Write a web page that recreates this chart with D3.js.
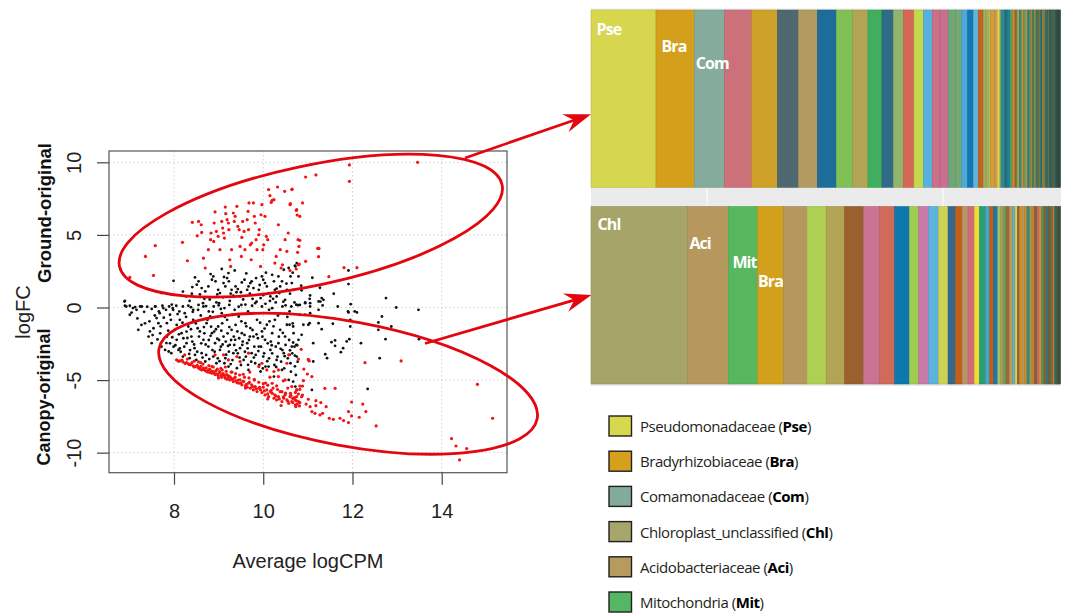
<!DOCTYPE html>
<html><head><meta charset="utf-8">
<script src="https://cdn.jsdelivr.net/npm/d3@7"></script>
<style>body{margin:0;background:#fff;} svg{display:block;}</style>
</head><body><svg id="chart" width="1065" height="613"></svg>
<script>
// ---------------- DATA ----------------
const xTicks = [8, 10, 12, 14];
const yTicks = [-10, -5, 0, 5, 10];
const xTitle = "Average logCPM";
const yTitle = "logFC";
const upTitle = "Ground-original";
const downTitle = "Canopy-original";

// non-significant tags (black)
const blackPoints = [
[7.99,1.84],[8.47,2.07],[8.41,1.41],[8.51,1.57],[8.62,1.34],[8.70,1.11],[8.77,1.45],[8.85,1.91],[8.88,2.14],[8.93,1.80],[8.99,1.22],[9.03,0.99],[9.07,2.65],[9.11,1.68],[9.15,1.45],[9.19,2.03],[9.22,2.37],[9.23,1.80],[9.29,1.22],[9.33,0.81],[9.38,1.45],[9.43,1.27],[9.48,0.76],[9.52,1.73],[9.58,1.91],[9.64,1.22],[9.67,1.45],[9.71,1.68],[9.74,1.80],[9.78,1.34],[9.84,2.03],[9.90,1.22],[9.94,0.65],[9.97,2.14],[10.00,1.91],[10.04,1.68],[10.08,1.45],[10.12,0.99],[10.16,0.76],[10.20,2.25],[10.24,1.80],[10.26,1.22],[10.30,0.76],[10.34,2.14],[10.38,1.45],[10.42,1.80],[10.46,2.60],[10.49,0.53],[10.53,1.22],[10.57,2.72],[10.61,2.14],[10.64,1.68],[10.68,1.22],[10.72,2.83],[10.75,3.06],[10.79,2.14],[7.72,0.99],[8.27,0.76],[6.90,0.46],
[8.35,0.45],[8.58,0.90],[8.80,0.55],[8.95,0.35],[9.10,0.70],[9.25,0.45],[9.40,1.05],[9.55,0.55],[9.70,0.95],[9.85,0.40],[10.00,0.85],[10.15,0.45],[10.30,1.30],[10.45,0.40],[10.60,0.95],[10.70,0.35],[8.65,0.30],[9.00,0.15],[9.60,0.20],[10.05,0.25],
[8.20,1.10],[8.40,0.95],[8.55,1.80],[8.68,0.60],[8.82,2.30],[8.97,0.90],[9.12,2.10],[9.27,0.95],[9.36,2.55],[9.50,1.05],[9.62,2.35],[9.76,0.60],[9.92,1.55],[10.06,2.40],[10.22,0.60],[10.36,1.00],[10.52,1.65],[10.66,2.40],[10.85,1.50],[11.10,2.05],
[6.89,0.41],[6.93,0.07],[7.01,0.12],[7.08,-0.04],[7.16,-0.16],[7.28,0.07],[7.58,0.07],[7.66,-0.27],[7.74,0.12],[7.82,-0.16],[7.89,0.07],[7.97,-0.04],[8.05,0.12],[8.12,-0.27],[8.20,0.07],[8.32,0.12],[8.43,-0.16],[8.55,0.18],[8.66,0.07],[8.78,-0.27],[8.89,0.07],[9.01,0.30],[9.13,-0.04],[9.24,0.18],[9.36,-0.16],[9.51,0.18],[9.66,-0.27],[9.82,0.30],[9.97,0.07],[10.13,-0.16],[10.28,0.35],[10.43,0.07],[10.59,-0.27],[10.82,0.18],[11.05,0.30],[11.28,0.41],[11.67,0.07],[11.90,-0.27],[12.05,-0.27],[12.75,0.65],[12.98,0.00],[13.48,-0.16],
[7.40,0.05],[7.50,-0.10],[7.95,0.20],[8.38,0.02],[8.72,0.10],[9.05,-0.10],[9.45,0.05],[9.75,0.12],[10.20,-0.05],[10.50,0.15],
[10.71,2.88],[11.91,2.55],[11.91,1.61],[11.27,1.36],[11.58,0.95],[10.86,1.18],[11.05,0.83],[11.04,0.60],[10.94,0.35],[11.24,0.42],[11.31,0.65],[11.35,0.53],[10.78,0.16],[11.05,0.07],[11.33,0.14],[11.96,0.23],
[10.59,-1.19],[10.67,-1.31],[10.63,0.07],[10.74,0.19],[10.82,-0.50],[10.90,-1.19],[10.94,0.30],[11.01,-1.19],[11.04,-1.08],[10.94,-0.50],[10.86,-1.88],[10.67,-2.41],[10.74,-2.57],[11.12,-2.46],[11.24,-0.16],[11.24,-1.08],[11.31,-1.49],[11.56,-1.12],[11.53,-2.39],[11.61,-2.27],[11.61,-2.64],[11.39,-3.22],[11.43,-3.49],[11.74,-3.08],[11.79,-2.80],[11.87,-2.34],[11.93,-2.18],[11.91,-0.34],[11.95,-0.85],[11.95,-1.31],[12.10,-0.34],[12.19,-2.46],[12.34,-5.61],[12.61,-3.49],[12.58,-1.54],[12.66,-0.62],[12.58,-1.03],[12.74,-2.18],[12.87,-1.31],[13.49,-2.18],[10.67,-5.10],[11.09,-5.68],[11.12,-3.72],[11.01,-3.61],[10.71,-3.31],[10.59,-3.26],[11.05,-0.39],
[6.90,0.12],[7.01,-0.50],[7.13,0.03],[7.20,-1.54],[7.24,0.07],[7.43,-2.00],[7.46,-1.65],[7.50,-2.46],[7.58,0.07],[7.61,-0.73],[7.65,-1.08],[7.68,-0.39],[7.72,-2.69],[7.76,-0.04],[7.80,-2.92],[7.84,-1.08],[7.88,-3.03],[7.91,-0.50],[7.94,-3.15],[7.98,-0.16],[8.02,-1.54],[8.06,-2.23],[8.10,-2.92],[8.13,-0.85],[8.17,-1.77],[8.20,-3.38],[8.24,-0.39],[8.28,-2.46],[8.32,-1.31],[8.35,-3.49],[8.39,-2.00],[8.43,-0.85],[8.46,-2.80],[8.50,-3.61],[8.54,-0.16],[8.58,-1.65],[8.62,-3.15],[8.66,-2.23],[8.70,-3.72],[8.73,-1.08],[8.77,-2.69],[8.81,-0.62],[8.85,-1.77],[8.88,-3.38],[8.92,-2.46],[8.95,-3.84],[8.99,-1.31],[9.03,-2.92],[9.07,-0.39],[9.11,-2.00],[9.15,-3.49],[9.19,-0.85],[9.22,-4.07],[9.25,-2.57],[9.29,-1.54],[9.33,-3.15],[9.37,-2.23],[9.41,-4.18],[9.45,-0.62],[9.48,-2.80],[9.52,-1.77],[9.56,-3.61],[9.60,-1.08],[9.64,-2.46],[9.67,-4.30],[9.71,-1.42],[9.74,-3.15],[9.78,-2.00],[9.82,-3.84],[9.86,-0.85],[9.90,-2.69],[9.94,-4.41],[9.97,-1.65],[10.00,-3.38],[10.04,-2.23],[10.08,-1.19],[10.12,-4.07],[10.16,-2.92],[10.20,-1.77],[10.24,-4.76],[10.26,-0.85],[10.30,-3.61],[10.34,-2.46],[10.38,-1.54],[10.42,-4.30],[10.46,-3.15],[10.49,-2.00],[10.53,-1.19],[10.57,-4.99],[10.61,-3.84],[10.64,-2.69],[10.68,-1.77],[10.72,-5.45],[10.75,-3.38],[10.79,-2.23],
[7.35,-1.09],[7.54,-1.43],[7.69,-1.78],[7.84,-2.01],[7.91,-2.47],[7.99,-2.70],[8.06,-1.20],[8.13,-2.81],[8.21,-2.12],[8.28,-1.66],[8.36,-2.93],[8.41,-2.35],[8.47,-3.27],[8.53,-1.43],[8.61,-2.47],[8.68,-1.78],[8.72,-3.27],[8.78,-2.24],[8.83,-1.32],[8.86,-2.93],[8.90,-1.66],[8.98,-3.50],[9.01,-2.24],[9.05,-2.70],[9.08,-1.09],[9.13,-3.84],[9.16,-2.35],[9.20,-1.78],[9.23,-3.04],[9.28,-2.24],[9.31,-3.62],[9.35,-2.58],[9.38,-1.20],[9.43,-3.16],[9.46,-2.12],[9.50,-3.96],[9.53,-2.58],[9.58,-1.89],[9.61,-3.39],[9.65,-2.81],[9.68,-2.24],[9.73,-3.73],[9.76,-1.55],[9.80,-2.70],[9.83,-3.27],[9.88,-2.12],[9.91,-3.96],[9.95,-2.70],[9.98,-2.01],[10.02,-3.16],[10.05,-4.07],[10.10,-2.47],[10.13,-3.50],[10.17,-2.35],[10.20,-3.16],[10.25,-3.96],[10.28,-2.70],[10.32,-3.39],[10.35,-2.01],[10.40,-3.73],[10.43,-2.93],[10.47,-4.19],[10.50,-2.58],[10.55,-3.50],[10.58,-2.24],[10.62,-4.42],[10.65,-3.16],[10.70,-2.70],[10.73,-4.65],[10.77,-3.73],
[7.05,-0.35],[7.18,-0.75],[7.27,-1.20],[7.33,-0.30],[7.45,-0.95],[7.52,-1.90],[7.57,-0.55],[7.63,-2.20],[7.70,-1.30],[7.77,-0.70],[7.83,-2.45],[7.87,-1.60],[7.93,-0.85],[7.96,-2.05],[8.03,-2.60],[8.08,-0.45],[8.11,-1.85],[8.15,-3.05],[8.19,-1.05],[8.23,-2.70],[8.27,-0.65],[8.30,-2.10],[8.34,-3.20],[8.38,-1.50],[8.42,-0.30],[8.45,-2.55],[8.49,-1.10],[8.52,-3.05],[8.56,-2.00],[8.60,-0.55],[8.64,-3.45],[8.67,-1.35],[8.71,-2.55],[8.75,-0.85],[8.79,-3.55],[8.82,-1.95],[8.87,-0.30],[8.91,-3.05],[8.94,-1.50],[8.97,-2.15],[9.02,-3.70],[9.06,-1.60],[9.09,-2.55],[9.14,-0.65],[9.17,-3.25],[9.21,-2.65],[9.24,-1.35],[9.27,-3.90],[9.31,-0.50],[9.34,-2.00],[9.39,-2.95],[9.42,-1.65],[9.47,-3.45],[9.51,-0.95],[9.54,-2.35],[9.59,-3.05],[9.62,-1.30],[9.66,-3.95],[9.70,-2.00],[9.75,-0.40],[9.79,-3.45],[9.85,-1.85],[9.89,-3.00],[9.93,-1.05],[9.99,-4.20],[10.03,-1.45],[10.09,-3.70],[10.14,-0.95],[10.19,-2.60],[10.23,-1.30],[10.29,-4.10],[10.33,-0.55],[10.39,-2.85],[10.44,-1.75],[10.48,-3.35],[10.54,-0.65],[10.60,-2.95],[10.66,-1.10],[10.71,-4.05],[10.76,-2.60]
];

// differentially abundant tags (red)
const redPoints = [
[7.01,2.07],[7.54,2.21],[7.36,3.52],[7.58,4.26],[8.19,4.49],[8.30,3.22],[8.41,5.87],[8.55,5.93],[8.61,5.70],[8.52,4.94],[8.62,5.17],[8.70,2.72],[8.66,3.40],[8.77,3.98],[8.83,5.13],[8.82,4.67],[8.89,4.55],[8.92,6.58],[8.90,5.82],[8.95,5.24],[8.99,4.90],[9.03,3.98],[9.07,5.93],[9.09,5.47],[9.11,5.13],[9.13,4.78],[9.15,6.92],[9.16,6.46],[9.19,6.05],[9.22,5.82],[9.23,5.36],[9.25,3.29],[9.27,2.83],[9.29,3.98],[9.33,6.51],[9.35,5.93],[9.37,6.28],[9.41,6.97],[9.43,5.59],[9.46,5.36],[9.48,4.21],[9.51,3.52],[9.52,4.83],[9.54,5.93],[9.57,5.24],[9.59,3.98],[9.64,6.05],[9.66,6.62],[9.67,5.36],[9.68,7.20],[9.71,4.32],[9.73,3.29],[9.74,4.44],[9.78,7.20],[9.80,6.28],[9.82,5.82],[9.84,4.67],[9.86,3.98],[9.90,5.01],[9.91,5.36],[9.94,2.83],[9.95,6.39],[9.97,7.08],[9.99,3.98],[10.01,4.32],[10.04,6.28],[10.07,4.90],[10.10,4.67],[10.12,8.12],[10.15,7.70],[10.18,7.24],[10.20,7.38],[10.24,7.43],[10.26,3.06],[10.29,3.52],[10.32,8.30],[10.34,5.70],[10.38,3.98],[10.40,2.72],[10.43,2.94],[10.48,8.00],[10.49,4.67],[10.53,3.87],[10.56,5.13],[10.61,7.15],[10.64,8.12],[10.75,6.74],[10.78,4.67],[10.79,2.94],[10.82,6.28],
[10.60,7.08],[10.65,8.16],[10.74,6.69],[10.76,6.37],[10.88,7.20],[10.95,8.99],[11.18,9.13],[11.93,9.82],[11.93,8.69],[13.46,10.00],[10.82,4.63],[10.80,4.21],[10.77,3.80],[10.81,2.99],[10.95,3.18],[10.74,2.65],[10.60,2.55],[11.22,4.07],[11.25,4.07],[11.24,3.50],[11.81,2.74],[12.10,2.74],[11.47,2.12],
[8.06,-3.61],[8.13,-3.68],[8.20,-3.75],[8.28,-3.79],[8.32,-3.88],[8.37,-3.95],[8.43,-4.02],[8.48,-4.07],[8.54,-4.14],[8.58,-4.23],[8.62,-4.30],[8.66,-4.18],[8.70,-4.34],[8.73,-4.41],[8.77,-4.30],[8.81,-4.48],[8.85,-4.53],[8.88,-4.41],[8.92,-4.62],[8.95,-4.57],[8.99,-4.71],[9.03,-4.48],[9.07,-4.80],[9.11,-4.64],[9.15,-4.87],[9.19,-4.94],[9.22,-4.71],[9.25,-4.99],[9.29,-4.90],[9.33,-5.10],[9.37,-4.80],[9.41,-5.17],[9.45,-5.22],[9.48,-4.99],[9.52,-5.33],[9.56,-5.10],[9.60,-5.40],[9.64,-5.49],[9.67,-5.22],[9.71,-5.56],[9.74,-5.33],[9.78,-5.68],[9.82,-5.45],[9.86,-5.79],[9.90,-5.56],[9.94,-5.68],[9.97,-5.86],[10.00,-5.49],[10.04,-6.02],[10.08,-5.68],[10.12,-6.14],[10.16,-5.79],[10.20,-5.91],[10.24,-6.25],[10.26,-6.02],[10.30,-6.37],[10.34,-6.14],[10.38,-5.79],[10.42,-6.48],[10.46,-6.25],[10.49,-6.02],[10.53,-6.37],[10.57,-6.60],[10.61,-5.91],[10.64,-6.48],[10.68,-6.25],[10.72,-6.71],[10.75,-6.14],[10.79,-6.48],
[8.92,-3.26],[9.22,-3.61],[9.41,-3.38],[9.48,-3.72],[9.67,-3.15],[9.90,-4.07],[9.97,-3.84],[10.08,-4.30],[10.24,-4.41],[10.34,-4.30],[10.53,-3.84],[10.57,-3.26],[10.34,-4.76],[10.20,-5.22],[10.49,-4.99],[10.64,-5.45],[10.75,-5.68],[8.24,-3.26],[9.11,-3.26],
[8.10,-3.70],[8.18,-3.62],[8.25,-3.85],[8.34,-3.92],[8.40,-3.80],[8.45,-4.10],[8.52,-3.98],[8.57,-4.20],[8.60,-4.05],[8.68,-4.28],[8.72,-4.15],[8.76,-4.45],[8.80,-4.25],[8.84,-4.38],[8.90,-4.50],[8.94,-4.35],[8.98,-4.60],[9.02,-4.42],[9.06,-4.68],[9.10,-4.55],[9.14,-4.75],[9.18,-4.62],[9.21,-4.85],[9.26,-4.78],[9.30,-4.95],[9.35,-4.88],[9.39,-5.05],[9.44,-5.00],[9.50,-5.20],[9.55,-5.08],[9.62,-5.30],[9.69,-5.15],[9.76,-5.45],[9.84,-5.60],[9.92,-5.50],[10.02,-5.75],[10.10,-5.95],[10.18,-5.70],[10.28,-6.10],[10.36,-6.30],[10.45,-6.15],[10.55,-6.45],[10.66,-6.55],[10.74,-6.42],
[8.30,-3.55],[8.45,-3.70],[8.55,-3.75],[8.65,-3.90],[8.78,-4.00],[8.88,-4.10],[8.97,-4.25],[9.08,-4.30],[9.17,-4.40],[9.28,-4.45],[9.38,-4.55],[9.47,-4.65],[9.58,-4.80],[9.68,-4.85],[9.80,-5.00],[9.90,-5.15],[10.00,-5.25],[10.10,-5.35],[10.22,-5.55],[10.32,-5.65],[10.42,-5.80],[10.50,-5.90],[10.62,-6.05],[10.70,-6.20],
[8.60,-3.80],[8.85,-4.05],[9.05,-4.20],[9.30,-4.45],[9.55,-4.60],[9.80,-4.95],[10.05,-5.20],[10.30,-5.40],[10.55,-5.55],[10.72,-5.85],[9.15,-4.10],[9.70,-4.45],[10.15,-4.80],[10.45,-5.05],
[9.00,-4.85],[9.60,-5.55],[10.10,-6.30],[10.40,-6.75],
[10.85,-2.88],[10.79,-3.55],[11.01,-3.57],[11.03,-3.68],[10.91,-4.24],[10.99,-4.58],[11.09,-4.76],[10.90,-5.04],[10.82,-5.41],[10.88,-5.41],[10.82,-5.64],[10.75,-5.68],[10.79,-5.96],[10.86,-6.14],[10.88,-6.03],[10.66,-6.26],[10.71,-6.37],[10.60,-6.14],[10.76,-6.65],[10.82,-6.55],[10.81,-6.78],[10.73,-6.83],[10.96,-6.65],[11.01,-6.32],[11.05,-6.83],[11.09,-7.17],[11.16,-7.29],[11.18,-6.42],[11.18,-6.76],[11.29,-6.55],[11.27,-7.40],[11.33,-7.29],[11.41,-6.83],[11.38,-5.57],[11.61,-5.57],[11.48,-7.63],[11.57,-7.70],[11.72,-7.63],[11.80,-7.79],[11.91,-7.93],[11.91,-7.17],[11.98,-7.47],[11.98,-6.51],[12.15,-7.56],[12.23,-6.65],[12.30,-7.17],[12.28,-3.80],[12.53,-8.16],[13.09,-3.68],[14.80,-5.29],[15.14,-7.63],[14.22,-9.03],[14.32,-9.54],[14.56,-9.72],[14.40,-10.50]
];

// family composition strips (relative abundance, ordered)
const topAbund = [65,38.3,30,27.4,25.6,21,19,19,16.4,15.3,14,11.3,10,10.7,9.3,9,7.7,8.3,7.4,6,6,5.6,5,5,
  2.7,2.3,2.4,3.6,3.0,2.7,1.7,3.3,2.3,2.7,2.7,2.3,2.0,2.3,2.4,2.0,2.0,2.0,1.6,1.7,
  1.7,1.6,1.7,1.6,1.6,1.6,1.5,1.5,1.5,1.5,1.4,1.4,1.4,1.4,1.4,1.4,1.4,1.4,1.3,1.2];
const topColors = ["#d6d64f","#d4a01c","#84ab9b","#cc707a","#cea128","#4f6870","#b39a60","#1d6c99","#80c157","#b1a555","#3fae5e","#306c88","#93b46c","#d46756","#c5d84b","#58b0dd","#cc6f87","#c8708f","#6fa777","#74a874","#4ca9d7","#1477b1","#5fb4dc","#c3621b",
  "#97b26a","#b4a957","#a3c45a","#d99a36","#c49a55","#e5d53a","#7f9f80","#2b8c8f","#2a6f7d","#1f7fa0","#4fa35f","#d7842b","#8e6a3b","#9aa553","#2d8a86","#d68a30","#5a9e5a","#b79352","#2f7f7f","#4a9a6a",
  "#cf7c2a","#3f7d5a","#8e9a4e","#2c7d86","#8b5e34","#4e9055","#286a73","#c47a2e","#558f5a","#7b5a3a","#2a6f70","#4a8050","#4a5a48","#2b6a6a","#6e5a3c","#3f6f55","#2a5a5a","#3e4e40","#234f55","#2f4a3f"];
const topLabels = ["Pse", "Bra", "Com"];

const botAbund = [96.3,41,29,26,23.4,19.3,18.3,19,15.7,15.3,14.7,9.3,10,10,9.4,7.3,6.7,6,6.3,5,6,4.3,4,4,
  2.7,2.6,3.0,3.6,3.0,2.5,2.2,2.3,2.5,2.4,2.5,2.8,2.2,2.5,2.5,2.2,2.2,2.4,2.3,2.2,2.2,2.3,1.9,1.9,2.0,1.8];
const botColors = ["#a7a469","#b6975e","#56b75f","#d3a01b","#b6975e","#afcf52","#b1a555","#9a612e","#c97493","#d26a5b","#0c78ac","#a1cc52","#c97aa8","#5eb2de","#cdd255","#33698a","#c55e1a","#b59569","#d46a78","#e7e035","#2a9e6c","#41a7cf","#c95c12","#1a78ad",
  "#9dc35c","#b89a5a","#6aa55a","#9a6a3a","#c69a56","#5aaed6","#e2d240","#8e6238","#d9902a","#b8975a","#d08a2a","#2f8a8a","#9aa054","#cf7e2c","#8b5f35","#cc6a6a","#d68e30","#4f9a5a","#8a6238","#2d7a7a","#7a5a38","#6a6e40","#c47a2e","#2a6a6a","#4a5a40","#3d4f3b"];
const botLabels = ["Chl", "Aci", "Mit", "Bra"];

const legendNames = ["Pseudomonadaceae","Bradyrhizobiaceae","Comamonadaceae","Chloroplast_unclassified","Acidobacteriaceae","Mitochondria"];
const legendAbbr = ["Pse","Bra","Com","Chl","Aci","Mit"];
const legendColors = ["#d8d84e","#d5a01c","#82ab9a","#a6a66a","#b69a5e","#55b664"];

// ---------------- DRAW ----------------
const svg = d3.select("#chart");
svg.append("rect").attr("width",1065).attr("height",613).attr("fill","#fff");
const RED = "#e3060f";
const axisFont = "'Liberation Sans', Arial, Helvetica, sans-serif";
const P = {l:109, r:507, t:151, b:472.7};
const x = d3.scaleLinear().domain([6.543, 15.463]).range([P.l, P.r]);
const y = d3.scaleLinear().domain([-11.38, 10.78]).range([P.b, P.t]);

const plot = svg.append("g");
plot.selectAll("line.gx").data(xTicks).join("line").attr("class","gx")
  .attr("x1",d=>x(d)).attr("x2",d=>x(d)).attr("y1",P.t).attr("y2",P.b)
  .attr("stroke","#d0d0d0").attr("stroke-width",1).attr("stroke-dasharray","1.5,2.5");
plot.selectAll("line.gy").data(yTicks).join("line").attr("class","gy")
  .attr("y1",d=>y(d)).attr("y2",d=>y(d)).attr("x1",P.l).attr("x2",P.r)
  .attr("stroke","#d0d0d0").attr("stroke-width",1).attr("stroke-dasharray","1.5,2.5");

plot.selectAll("circle.bk").data(blackPoints).join("circle").attr("class","bk")
  .attr("cx",d=>x(d[0])).attr("cy",d=>y(d[1])).attr("r",1.4).attr("fill","#111");
plot.selectAll("circle.rd").data(redPoints).join("circle").attr("class","rd")
  .attr("cx",d=>x(d[0])).attr("cy",d=>y(d[1])).attr("r",1.6).attr("fill","#f21414");

plot.append("rect").attr("x",P.l).attr("y",P.t).attr("width",P.r-P.l).attr("height",P.b-P.t)
  .attr("fill","none").attr("stroke","#555").attr("stroke-width",1.2);

const xa = svg.append("g").attr("transform",`translate(0,${P.b})`)
  .call(d3.axisBottom(x).tickValues(xTicks).tickSize(12).tickPadding(19).tickFormat(d=>String(d)));
xa.select(".domain").remove();
xa.selectAll("line").attr("stroke","#444").attr("stroke-width",1.2);
xa.selectAll("text").attr("font-size",20).attr("font-family",axisFont).attr("fill","#222");

const ya = svg.append("g").attr("transform",`translate(${P.l},0)`)
  .call(d3.axisLeft(y).tickValues(yTicks).tickSize(12).tickFormat(d=>String(d)));
ya.select(".domain").remove();
ya.selectAll("line").attr("stroke","#444").attr("stroke-width",1.2);
ya.selectAll("text").attr("x",0).attr("dy",null).attr("text-anchor","middle")
  .attr("dominant-baseline","central").attr("transform",`translate(${74-P.l},0) rotate(-90)`)
  .attr("font-size",20).attr("font-family",axisFont).attr("fill","#222");

svg.append("text").attr("x",(P.l+P.r)/2).attr("y",561).attr("text-anchor","middle")
  .attr("dominant-baseline","central").attr("font-family",axisFont).attr("font-size",20).attr("fill","#222").text(xTitle);
svg.append("text").attr("transform","translate(23,312) rotate(-90)").attr("text-anchor","middle")
  .attr("dominant-baseline","central").attr("font-family",axisFont).attr("font-size",20).attr("fill","#222").text(yTitle);
svg.append("text").attr("transform","translate(44,213) rotate(-90)").attr("text-anchor","middle")
  .attr("dominant-baseline","central").attr("font-family",axisFont).attr("font-weight","bold").attr("font-size",18.5).attr("fill","#111").text(upTitle);
svg.append("text").attr("transform","translate(44,397) rotate(-90)").attr("text-anchor","middle")
  .attr("dominant-baseline","central").attr("font-family",axisFont).attr("font-weight","bold").attr("font-size",18).attr("fill","#111").text(downTitle);

// ellipses
svg.append("ellipse").attr("cx",0).attr("cy",0).attr("rx",195.6).attr("ry",59.8)
  .attr("transform","translate(310.8,225.6) rotate(-12.06)")
  .attr("fill","none").attr("stroke",RED).attr("stroke-width",2.8);
svg.append("ellipse").attr("cx",0).attr("cy",0).attr("rx",192.3).attr("ry",62.1)
  .attr("transform","translate(348.1,383.7) rotate(10.49)")
  .attr("fill","none").attr("stroke",RED).attr("stroke-width",2.8);

function arrow(x1,y1,x2,y2){
  const ang = Math.atan2(y2-y1,x2-x1);
  const bx = x2 - 18*Math.cos(ang), by = y2 - 18*Math.sin(ang);
  svg.append("line").attr("x1",x1).attr("y1",y1).attr("x2",bx).attr("y2",by)
    .attr("stroke",RED).attr("stroke-width",2.8);
  svg.append("path").attr("d","M0,0 L-27,-9.5 L-18,0 L-27,9.5 Z")
    .attr("transform",`translate(${x2},${y2}) rotate(${ang*180/Math.PI})`).attr("fill",RED);
}
arrow(465,158,591,114.3);
arrow(425,343.5,591.5,295);

// composition strips
const panel = svg.append("g");
panel.append("rect").attr("x",591).attr("y",8.5).attr("width",470).attr("height",377.5).attr("fill","#ebebeb");
panel.selectAll("line.vg").data([707,943]).join("line").attr("class","vg")
  .attr("x1",d=>d).attr("x2",d=>d).attr("y1",187).attr("y2",207).attr("stroke","#fff").attr("stroke-width",1);

function strip(vals, cols, labels, y0, y1, labelY0, labelStep, labelDx){
  const bx = d3.scaleLinear().domain([0, d3.sum(vals)]).range([591, 1060.5]);
  const ends = Array.from(d3.cumsum(vals));
  const starts = ends.map((e,i)=> e - vals[i]);
  const g = panel.append("g");
  g.selectAll("rect").data(vals).join("rect")
    .attr("x",(d,i)=>bx(starts[i])).attr("width",(d,i)=>bx(ends[i])-bx(starts[i]))
    .attr("y",y0).attr("height",y1-y0)
    .attr("fill",(d,i)=>cols[i])
    .attr("stroke",(d,i)=>d3.color(cols[i]).darker(0.35)).attr("stroke-width",0.6);
  g.selectAll("text").data(labels).join("text")
    .attr("x",(d,i)=>bx(starts[i]) + labelDx[i]).attr("y",(d,i)=>labelY0 + i*labelStep)
    .attr("dominant-baseline","central")
    .attr("font-family","'Open Sans', 'Noto Sans', sans-serif").attr("font-weight","bold")
    .attr("font-size",16).attr("letter-spacing","-0.9").attr("fill","#fff").text(d=>d);
}
strip(topAbund, topColors, topLabels, 10, 187.3, 29, 17, [5.5, 5.5, 1.5]);
strip(botAbund, botColors, botLabels, 206.5, 384, 224, 19, [6.5, 2, 4, 0.5]);

// legend
const lg = svg.append("g");
const ly = d3.scaleLinear().domain([0,5]).range([426, 602]);
legendNames.forEach((nm,i)=>{
  const cy = ly(i);
  lg.append("rect").attr("x",609).attr("y",cy-10).attr("width",22.5).attr("height",20)
    .attr("fill",legendColors[i]).attr("stroke","#231f20").attr("stroke-width",1.4);
  const t = lg.append("text").attr("x",640).attr("y",cy).attr("dominant-baseline","central")
    .attr("font-family","'Open Sans', 'Noto Sans', sans-serif").attr("font-size",15)
    .attr("letter-spacing","-0.45").attr("fill","#231f20");
  t.append("tspan").text(nm + " (");
  t.append("tspan").attr("font-weight","bold").attr("fill","#000").text(legendAbbr[i]);
  t.append("tspan").text(")");
});
</script>
</body></html>
